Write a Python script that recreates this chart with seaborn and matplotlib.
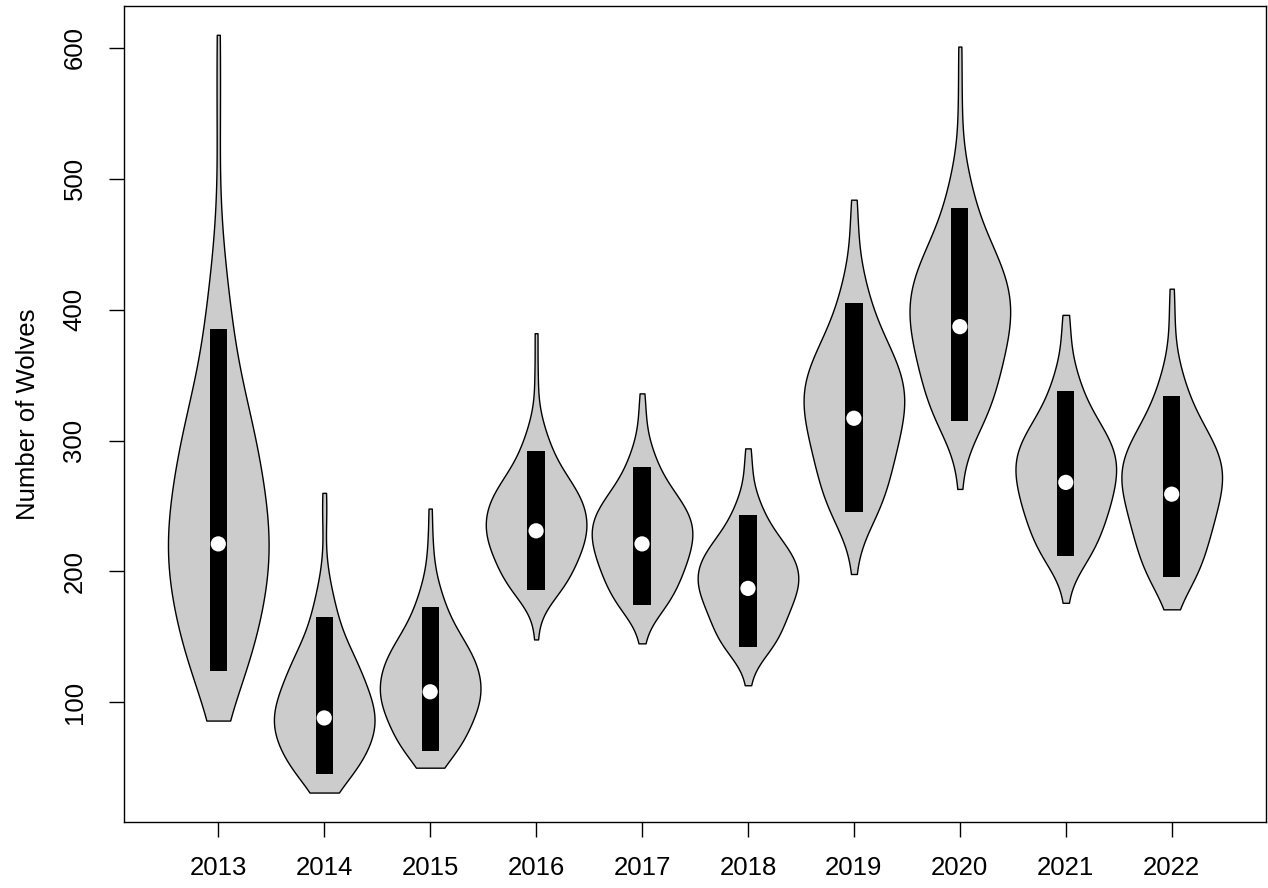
import numpy as np
import pandas as pd
import matplotlib
matplotlib.use("Agg")
import matplotlib.pyplot as plt
import seaborn as sns

# wolf counts per year:
# min, 2.5%, 5%..95% (5% steps), 97.5%, 99%, two top outliers
years = ["2013", "2014", "2015", "2016", "2017", "2018", "2019", "2020", "2021", "2022"]

w2013 = [86, 112, 124, 140, 155, 169, 181, 194, 203, 213, 223, 234, 245, 256,
         269, 282, 295, 310, 326, 349, 385, 424, 470, 547, 610]
w2014 = [31, 40, 45, 52, 59, 65, 70, 76, 80, 85, 89, 94, 99, 104,
         110, 116, 123, 130, 137, 148, 165, 184, 205, 240, 260]
w2015 = [50, 57, 63, 70, 77, 83, 89, 95, 99, 103, 108, 113, 117, 122,
         127, 132, 137, 143, 150, 159, 173, 189, 207, 222, 248]
w2016 = [148, 180, 186, 193, 200, 206, 212, 218, 222, 226, 231, 236, 240, 244,
         249, 254, 259, 264, 270, 279, 292, 307, 323, 350, 382]
w2017 = [145, 168, 174, 182, 189, 195, 201, 207, 211, 216, 221, 226, 230, 234,
         238, 243, 248, 253, 259, 267, 280, 294, 310, 322, 336]
w2018 = [113, 136, 142, 149, 156, 162, 168, 174, 178, 183, 187, 192, 196, 199,
         204, 208, 213, 218, 223, 231, 243, 256, 272, 283, 294]
w2019 = [198, 236, 245, 257, 268, 277, 286, 296, 302, 310, 317, 325, 331, 336,
         343, 350, 357, 365, 374, 386, 405, 426, 450, 468, 484]
w2020 = [263, 306, 315, 327, 338, 347, 356, 366, 372, 380, 387, 395, 401, 407,
         414, 421, 429, 437, 446, 458, 478, 500, 524, 560, 601]
w2021 = [176, 205, 212, 221, 230, 237, 244, 251, 256, 262, 268, 274, 279, 283,
         289, 294, 300, 306, 313, 323, 338, 355, 374, 388, 396]
w2022 = [171, 188, 196, 206, 216, 224, 232, 240, 246, 253, 259, 266, 271, 276,
         282, 287, 294, 300, 308, 318, 334, 352, 372, 395, 416]

# how many draws each of the values above stands for
counts = [1, 3] + [5] * 19 + [3, 1, 1, 1]

# 90% interval (black bar) and the white dot
ci_low = [124, 45, 63, 186, 174, 142, 245, 315, 212, 196]
ci_high = [385, 165, 173, 292, 280, 243, 405, 478, 338, 334]
medians = [221, 88, 108, 231, 221, 187, 317, 387, 268, 259]

samples = [w2013, w2014, w2015, w2016, w2017, w2018, w2019, w2020, w2021, w2022]
df = pd.DataFrame({
    "year": np.repeat(years, [sum(counts)] * len(years)),
    "wolves": np.concatenate([np.repeat(s, counts) for s in samples]),
})

sns.set_theme(style="ticks")
plt.rcParams["font.family"] = ["Liberation Sans", "DejaVu Sans"]
plt.rcParams["text.color"] = "black"
plt.rcParams["axes.labelcolor"] = "black"
plt.rcParams["xtick.color"] = "black"
plt.rcParams["ytick.color"] = "black"
plt.rcParams["axes.edgecolor"] = "black"

fig = plt.figure(figsize=(12.68, 8.88), dpi=100)
ax = fig.add_axes([124 / 1268, 66 / 888, 1142 / 1268, 816 / 888])

sns.violinplot(data=df, x="year", y="wolves", order=years, cut=0, inner=None,
               density_norm="width", width=0.95, color="#CCCCCC", saturation=1,
               linecolor="black", linewidth=1, ax=ax)

pos = np.arange(len(years))
ax.bar(pos, np.subtract(ci_high, ci_low), bottom=ci_low, width=0.163,
       color="black", linewidth=0, zorder=3)
ax.scatter(pos, medians, s=120, color="white", edgecolor="none", zorder=4)

ax.set_xlim(-0.89, 9.89)
ax.set_ylim(8.5, 632)
ax.set_yticks([100, 200, 300, 400, 500, 600])
ax.set_xlabel("")
ax.set_ylabel("Number of Wolves", fontsize=18.5, labelpad=16)
ax.tick_params(axis="both", length=11, width=1, labelsize=18.5)
ax.tick_params(axis="x", pad=13.5)
ax.tick_params(axis="y", pad=16)
plt.setp(ax.get_yticklabels(), rotation=90, va="center")
for sp in ax.spines.values():
    sp.set_linewidth(1)

fig.savefig("out.png", dpi=100)
